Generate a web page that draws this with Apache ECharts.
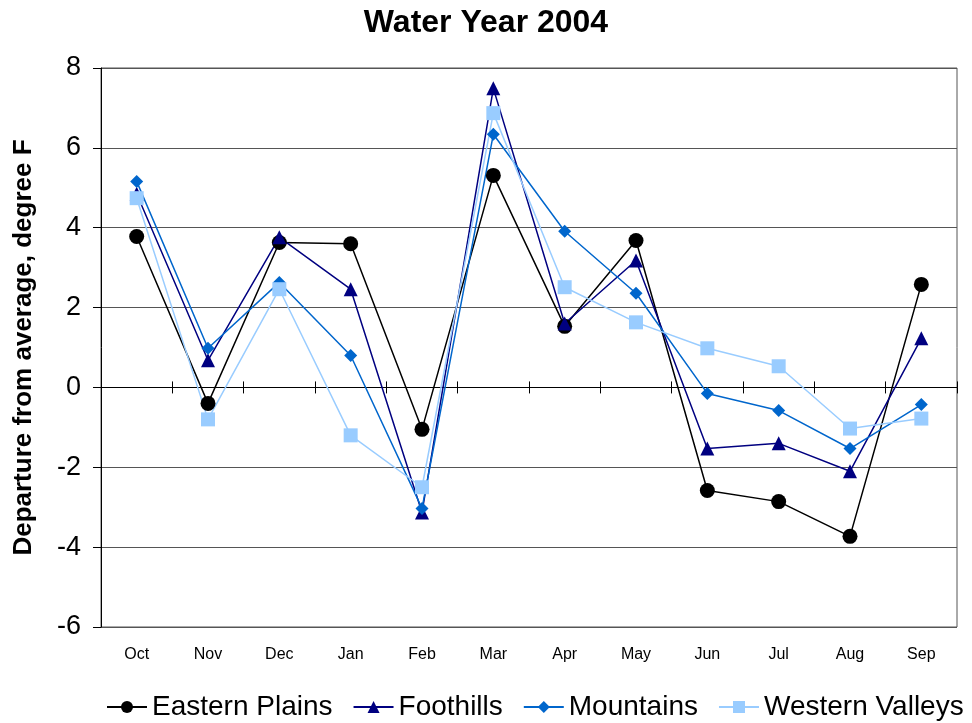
<!DOCTYPE html>
<html><head><meta charset="utf-8">
<script src="https://cdn.jsdelivr.net/npm/echarts@6/dist/echarts.min.js"></script>
<style>html,body{margin:0;padding:0;background:#fff}#c{width:972px;height:723px}</style>
</head><body><div id="c"></div>
<script>
const months = ['Oct','Nov','Dec','Jan','Feb','Mar','Apr','May','Jun','Jul','Aug','Sep'];
const easternPlains = [3.78, -0.4, 3.63, 3.6, -1.05, 5.31, 1.53, 3.68, -2.58, -2.86, -3.73, 2.58];
const foothills = [4.85, 0.68, 3.76, 2.46, -3.13, 7.49, 1.6, 3.18, -1.53, -1.4, -2.1, 1.23];
const mountains = [5.16, 0.98, 2.63, 0.8, -3.03, 6.34, 3.91, 2.36, -0.15, -0.58, -1.53, -0.43];
const westernValleys = [4.74, -0.8, 2.46, -1.2, -2.5, 6.87, 2.51, 1.63, 0.98, 0.53, -1.03, -0.78];
const yTicks = {min: -6, max: 8, interval: 2};

const font = 'Liberation Sans, Arial, sans-serif';
function s(name, data, color, symbol, size) {
  return {
    name, type: 'line', data, symbol, symbolSize: size,
    itemStyle: {color}, lineStyle: {color, width: 1.5},
    xAxisIndex: 0, yAxisIndex: 0, animation: false
  };
}
const chart = echarts.init(document.getElementById('c'));
chart.setOption({
  backgroundColor: '#fff',
  title: {text: 'Water Year 2004', left: 'center', top: 2,
    textStyle: {fontFamily: font, fontSize: 32, fontWeight: 'bold', color: '#000'}},
  legend: {bottom: -3, left: 101, width: 871, itemWidth: 40, itemHeight: 15, itemGap: 20,
    textStyle: {fontFamily: font, fontSize: 28, color: '#000'},
    data: ['Eastern Plains','Foothills','Mountains','Western Valleys']},
  grid: {left: 101, right: 15, top: 68, bottom: 96, show: true, borderColor: '#555', borderWidth: 1},
  xAxis: [
    {type: 'category', data: months, boundaryGap: true, position: 'bottom',
     axisLine: {show: true, onZero: true, onZeroAxisIndex: 0, lineStyle: {color: '#000', width: 1}},
     axisTick: {show: true, length: 6, lineStyle: {color: '#000'}},
     axisLabel: {show: false}, splitLine: {show: false}},
    {type: 'category', data: months, boundaryGap: true, position: 'top',
     axisLine: {show: true, onZero: true, onZeroAxisIndex: 1, lineStyle: {color: '#000', width: 1}},
     axisTick: {show: true, length: 6, lineStyle: {color: '#000'}},
     axisLabel: {show: false}, splitLine: {show: false}},
    {type: 'category', data: months, boundaryGap: true, position: 'bottom',
     axisLine: {show: false, onZero: false}, axisTick: {show: false},
     axisLabel: {show: true, margin: 20, fontFamily: font, fontSize: 16, color: '#000'}}
  ],
  yAxis: [
    {type: 'value', min: yTicks.min, max: yTicks.max, interval: yTicks.interval,
    name: 'Departure from average, degree F', nameLocation: 'middle', nameGap: 64,
    nameTextStyle: {fontFamily: font, fontSize: 26, fontWeight: 'bold', color: '#000'},
    axisLine: {show: true, lineStyle: {color: '#000'}},
    axisTick: {show: true, length: 8, lineStyle: {color: '#000'}},
    axisLabel: {fontFamily: font, fontSize: 27, color: '#000', margin: 20},
    splitLine: {show: true, lineStyle: {color: '#555', width: 1}}},
    {type: 'value', min: yTicks.min, max: yTicks.max, interval: yTicks.interval, position: 'right',
    axisLine: {show: false, onZero: false}, axisTick: {show: false}, axisLabel: {show: false}, splitLine: {show: false}}
  ],
  series: [
    s('Eastern Plains', easternPlains, '#000000', 'circle', 15),
    s('Foothills', foothills, '#000080', 'triangle', 14),
    s('Mountains', mountains, '#0066CC', 'diamond', 13),
    s('Western Valleys', westernValleys, '#99CCFF', 'rect', 14)
  ]
});
</script></body></html>
